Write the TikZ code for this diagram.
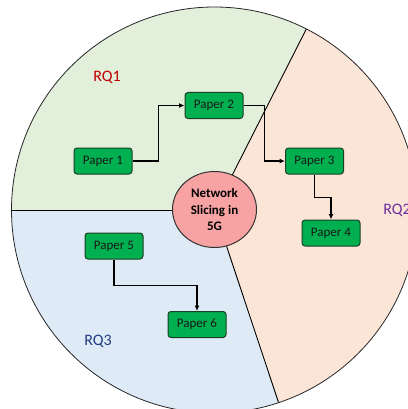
\documentclass[tikz,border=0pt]{standalone}
\usepackage{fontspec}
\setmainfont{Carlito}
\usetikzlibrary{arrows.meta,shapes.geometric}

\definecolor{rqgreen}{HTML}{E2EFDA}
\definecolor{rqpeach}{HTML}{FBE5D6}
\definecolor{rqblue}{HTML}{DEEBF7}
\definecolor{hubpink}{HTML}{F7A3A3}
\definecolor{boxgreen}{HTML}{00B050}
\definecolor{boxedge}{HTML}{1A3F24}
\definecolor{rqred}{HTML}{C00000}
\definecolor{rqpurple}{HTML}{7030A0}
\definecolor{rqnavy}{HTML}{203C80}

\tikzset{
  paper/.style={draw=boxedge, line width=1pt, fill=boxgreen, rounded corners=3pt,
    minimum width=58pt, minimum height=26pt, inner sep=0pt,
    font=\fontsize{13}{15}\selectfont, text=black!90},
  hub/.style={ellipse, draw=black!80, line width=1pt, fill=hubpink,
    minimum width=84pt, minimum height=76pt, inner sep=0pt, align=center,
    font=\fontsize{13}{16.5}\selectfont\bfseries},
  rq/.style={font=\fontsize{16}{18}\selectfont},
  conn/.style={line width=1.6pt, black, -{Latex[length=5.5pt,width=5pt]}},
  divider/.style={line width=0.9pt, black},
}

\begin{document}
\begin{tikzpicture}[x=1pt, y=-1pt]
  \useasboundingbox (0,0) rectangle (407,409);
  \coordinate (c) at (214.5,210);
  \def\R{203}

  % three research-question sectors
  \fill[rqgreen] (c) -- ++(180:\R) arc[start angle=180, end angle=296.9, radius=\R] -- cycle;
  \fill[rqpeach] (c) -- ++(-63.1:\R) arc[start angle=-63.1, end angle=71.6, radius=\R] -- cycle;
  \fill[rqblue] (c) -- ++(71.6:\R) arc[start angle=71.6, end angle=180, radius=\R] -- cycle;

  % sector boundaries and rim
  \draw[divider] (c) -- ++(180:\R);
  \draw[divider] (c) -- ++(-63.1:\R);
  \draw[divider] (c) -- ++(71.6:\R);
  \draw[line width=0.8pt, black!85] (c) circle[radius=\R];

  % central topic
  \node[hub] (net) at (214.5,209.5) {Network\\Slicing in\\5G};

  % sector labels
  \node[rq, text=rqred] (rq1) at (107,77) {RQ1};
  \node[rq, text=rqpurple] (rq2) at (397,210) {RQ2};
  \node[rq, text=rqnavy] (rq3) at (98,341) {RQ3};

  % papers
  \node[paper] (p1) at (103,161) {Paper 1};
  \node[paper] (p2) at (214,105.5) {Paper 2};
  \node[paper] (p3) at (314.5,161) {Paper 3};
  \node[paper] (p4) at (331,233) {Paper 4};
  \node[paper] (p5) at (114,246) {Paper 5};
  \node[paper] (p6) at (197,324.5) {Paper 6};

  % reading order
  \draw[conn] (p1.east) -- ++(26,0) |- (p2.west);
  \draw[conn] (p2.east) -- ++(21,0) |- (p3.west);
  \draw[conn] (p3.south) -- ++(0,23) -| (p4.north);
  \draw[conn] (p5.south) -- ++(0,26) -| (p6.north);
\end{tikzpicture}
\end{document}
